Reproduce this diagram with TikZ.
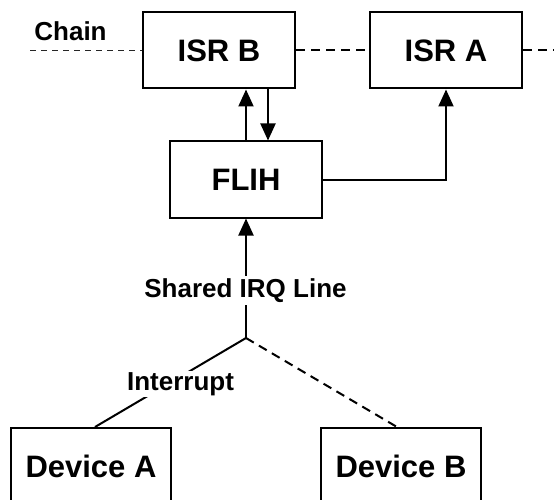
\documentclass[tikz,border=0pt]{standalone}
\usepackage{fontspec}
\setmainfont{Liberation Sans}
\usetikzlibrary{arrows.meta}
\begin{document}
\begin{tikzpicture}[x=1pt,y=-1pt,
  box/.style={draw, line width=2pt, minimum width=152pt, minimum height=76pt,
    inner sep=0pt, font=\fontsize{31}{31}\selectfont\bfseries},
  devbox/.style={box, minimum width=160pt},
  lbl/.style={font=\fontsize{26}{26}\selectfont\bfseries, inner sep=2pt},
  conn/.style={line width=2pt},
  arr/.style={conn, -{Triangle[length=17pt,width=15pt]}},
  chainline/.style={line width=2pt, dash pattern=on 9pt off 6pt},
]
\useasboundingbox (0,0) rectangle (554,500);

% handlers in the chain
\node[box] (isrB) at (219,50.5) {ISR B};
\node[box] (isrA) at (446,50.5) {ISR A};
% first-level handler
\node[box] (flih) at (246,179.5) {FLIH};
% devices sharing the line
\node[devbox] (devA) at (91,466) {Device A};
\node[devbox] (devB) at (401,466) {Device B};

\coordinate (chainL) at (30,50.5);
\coordinate (chainR) at (554,50.5);
\coordinate (join) at (246,338);

\node[lbl] (chainlbl) at (70.5,31.5) {Chain};

% the chain of ISRs
\draw[line width=0.9pt, dash pattern=on 6pt off 5pt, black!85] (chainL) -- (isrB.west);
\draw[chainline] (isrB.east) -- (isrA.west);
\draw[chainline] (isrA.east) -- (chainR);

% FLIH dispatch
\draw[arr] (flih.north) -- (flih.north |- isrB.south);
\draw[arr] ([xshift=22pt]flih.north |- isrB.south) -- ([xshift=22pt]flih.north);
\draw[arr] (flih.east) -| (isrA.south);

% shared IRQ line
\draw[arr] (join) -- (flih.south);
\draw[conn] ([xshift=4pt]devA.north) -- (join);
\draw[conn, dash pattern=on 9pt off 6pt] (join) -- ([xshift=-4pt]devB.north);

% labels over the lines
\node[lbl, fill=white, anchor=base, inner sep=2.5pt] (irq) at (245.5,297) {Shared IRQ Line};
\node[lbl, fill=white, anchor=base, inner sep=1.5pt] (intr) at (180.5,390) {Interrupt};
\end{tikzpicture}
\end{document}
